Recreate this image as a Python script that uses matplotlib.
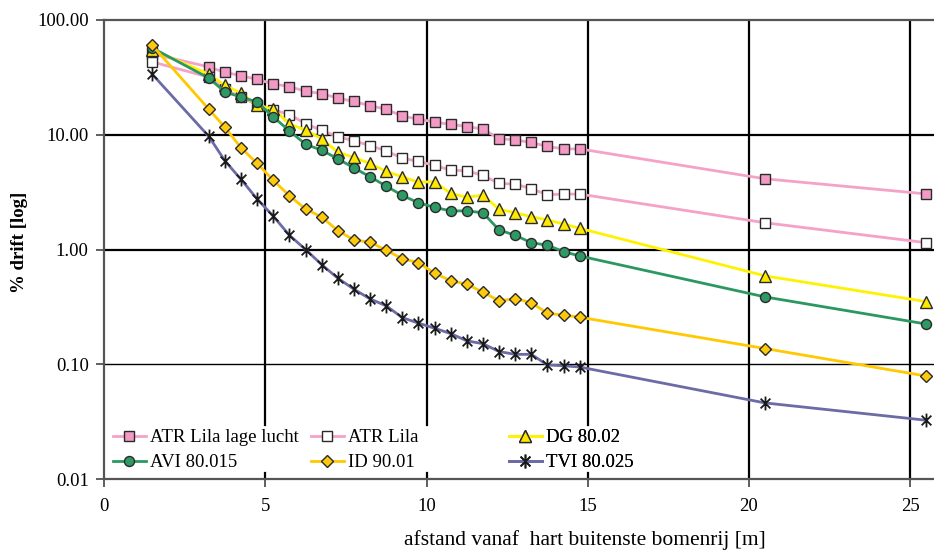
import matplotlib
matplotlib.use("Agg")
import matplotlib.pyplot as plt
from matplotlib.path import Path
from matplotlib.ticker import FixedLocator, FixedFormatter, NullLocator

plt.rcParams['font.family'] = ['Liberation Serif', 'DejaVu Serif']
plt.rcParams['axes.grid'] = False

# distance from outer tree row [m]
distance = [1.5, 3.25, 3.75, 4.25, 4.75, 5.25, 5.75, 6.25, 6.75, 7.25, 7.75,
            8.25, 8.75, 9.25, 9.75, 10.25, 10.75, 11.25, 11.75, 12.25, 12.75,
            13.25, 13.75, 14.25, 14.75, 20.5, 25.5]

atr_lila_lage_lucht = [50.8, 39.0, 35.0, 32.7, 30.4, 27.7, 26.3, 23.9, 22.8, 20.9,
                       19.5, 17.9, 16.7, 14.5, 13.7, 12.9, 12.3, 11.8, 11.2, 9.27,
                       9.0, 8.56, 7.9, 7.53, 7.53, 4.13, 3.05]
atr_lila = [43.1, 31.8, 24.9, 21.2, 18.3, 16.5, 15.0, 12.5, 10.9, 9.64,
            8.83, 8.05, 7.23, 6.25, 5.85, 5.42, 4.91, 4.85, 4.42, 3.76,
            3.72, 3.38, 3.0, 3.04, 3.04, 1.71, 1.146]
dg_80_02 = [55.0, 33.8, 26.9, 23.1, 18.0, 16.8, 12.4, 11.0, 9.2, 7.05,
            6.34, 5.62, 4.79, 4.30, 3.86, 3.9, 3.08, 2.85, 2.98, 2.24,
            2.09, 1.93, 1.81, 1.67, 1.53, 0.589, 0.351]
avi_80_015 = [57.0, 31.2, 23.6, 21.3, 19.3, 14.3, 10.8, 8.26, 7.33, 6.17,
              5.14, 4.30, 3.57, 2.96, 2.55, 2.33, 2.17, 2.17, 2.09, 1.48,
              1.33, 1.146, 1.09, 0.958, 0.878, 0.386, 0.224]
id_90_01 = [60.0, 16.7, 11.6, 7.7, 5.62, 4.0, 2.94, 2.25, 1.92, 1.46,
            1.21, 1.16, 0.984, 0.832, 0.768, 0.621, 0.535, 0.498, 0.425, 0.357,
            0.373, 0.344, 0.278, 0.268, 0.257, 0.137, 0.0789]
tvi_80_025 = [33.6, 9.67, 5.92, 4.08, 2.75, 1.95, 1.33, 1.0, 0.738, 0.562,
              0.451, 0.371, 0.323, 0.255, 0.228, 0.206, 0.185, 0.16, 0.151, 0.129,
              0.122, 0.122, 0.0985, 0.097, 0.0946, 0.046, 0.0325]

y_ticks = [0.01, 0.1, 1, 10, 100]
y_tick_labels = ['0.01', '0.10', '1.00', '10.00', '100.00']
x_ticks = [0, 5, 10, 15, 20, 25]
x_tick_labels = ['0', '5', '10', '15', '20', '25']

# asterisk marker: an X with a vertical stroke
star_path = Path([(-0.7, -0.7), (0.7, 0.7), (-0.7, 0.7), (0.7, -0.7), (0, -1), (0, 1)],
                 [Path.MOVETO, Path.LINETO, Path.MOVETO, Path.LINETO, Path.MOVETO, Path.LINETO])

edge = '#2a2a2a'
series = [
    ('ATR Lila lage lucht', atr_lila_lage_lucht,
     dict(color='#F4A2C8', marker='s', ms=7.6, mfc='#F29AC4', mec=edge, mew=1.0)),
    ('ATR Lila', atr_lila,
     dict(color='#F4A2C8', marker='s', ms=7.6, mfc='white', mec=edge, mew=1.0)),
    ('DG 80.02', dg_80_02,
     dict(color='#FFF200', marker='^', ms=8.5, mfc='#FFE800', mec=edge, mew=1.0)),
    ('AVI 80.015', avi_80_015,
     dict(color='#2B9862', marker='o', ms=7.2, mfc='#2E9964', mec=edge, mew=1.0)),
    ('ID 90.01', id_90_01,
     dict(color='#FFC800', marker='D', ms=6.6, mfc='#FFC90E', mec=edge, mew=1.0)),
    ('TVI 80.025', tvi_80_025,
     dict(color='#6B6BA6', marker=star_path, ms=10, mfc='none', mec='#1a1a1a', mew=1.3)),
]

W, H = 934, 550
fig = plt.figure(figsize=(W / 100, H / 100), dpi=100)
ax_left, ax_right, ax_top, ax_bottom = 104, 934, 20, 479
ax_w, ax_h = ax_right - ax_left, ax_bottom - ax_top
ax = fig.add_axes([ax_left / W, 1 - ax_bottom / H, ax_w / W, ax_h / H])
ax.grid(False)

ax.set_yscale('log')
ax.set_ylim(0.01, 100)
px_per_unit = 32.25
ax.set_xlim(0, ax_w / px_per_unit)

# legend block (pixels): vertical gridlines stop where it sits
leg_x0, leg_x1, leg_top, leg_bot = 110, 690, 425, 473
gap_lo = (ax_bottom - leg_bot) / ax_h
gap_hi = (ax_bottom - leg_top) / ax_h

# grid
for xv in [5, 10, 15, 20, 25]:
    xp = ax_left + xv * px_per_unit
    if leg_x0 < xp < leg_x1:
        ax.plot([xv, xv], [0, gap_lo], transform=ax.get_xaxis_transform(),
                color='black', lw=1.6, zorder=0.5)
        ax.plot([xv, xv], [gap_hi, 1], transform=ax.get_xaxis_transform(),
                color='black', lw=1.6, zorder=0.5)
    else:
        ax.axvline(xv, color='black', lw=1.6, zorder=0.5)
ax.axhline(10, color='black', lw=1.6, zorder=0.5)
ax.axhline(1, color='black', lw=1.6, zorder=0.5)
ax.axhline(0.1, color='black', lw=1.0, zorder=0.5)

handles = []
for i, (name, vals, st) in enumerate(series):
    h, = ax.plot(distance, vals, lw=2.0, label=name, zorder=3 + i,
                 clip_on=False, **st)
    handles.append(h)

ax.yaxis.set_major_locator(FixedLocator(y_ticks))
ax.yaxis.set_major_formatter(FixedFormatter(y_tick_labels))
ax.yaxis.set_minor_locator(NullLocator())
ax.xaxis.set_major_locator(FixedLocator(x_ticks))
ax.xaxis.set_major_formatter(FixedFormatter(x_tick_labels))
ax.xaxis.set_minor_locator(NullLocator())
ax.tick_params(axis='both', which='major', direction='out', length=6, width=1.2,
               colors='#444444', labelcolor='black', labelsize=13.5)
ax.tick_params(axis='y', pad=5)
ax.tick_params(axis='x', pad=8)

for s in ['left', 'bottom', 'top']:
    ax.spines[s].set_color('#555555')
    ax.spines[s].set_linewidth(1.6)
ax.spines['right'].set_visible(False)

ax.set_ylabel('% drift [log]', fontsize=13.5, fontweight='bold', va='center')
ax.yaxis.set_label_coords((20 - ax_left) / ax_w, (ax_bottom - 242) / ax_h)
ax.set_xlabel('afstand vanaf  hart buitenste bomenrij [m]', fontsize=15.5, va='center')
ax.xaxis.set_label_coords((585 - ax_left) / ax_w, -(540 - ax_bottom) / ax_h)

# legend laid out in three fixed columns
col_x = [113, 311, 509]
columns = [(handles[0], handles[3]), (handles[1], handles[4]), (handles[2], handles[5])]
for cx, pair in zip(col_x, columns):
    leg = ax.legend(list(pair), [p.get_label() for p in pair], loc='upper left',
                    bbox_to_anchor=(cx / W, 1 - 429 / H), bbox_transform=fig.transFigure,
                    frameon=False, fontsize=13.5, borderpad=0, borderaxespad=0,
                    handlelength=1.75, handletextpad=0.25, labelspacing=0.42)
    leg.set_zorder(20)
    ax.add_artist(leg)

fig.savefig('out.png', dpi=100)
